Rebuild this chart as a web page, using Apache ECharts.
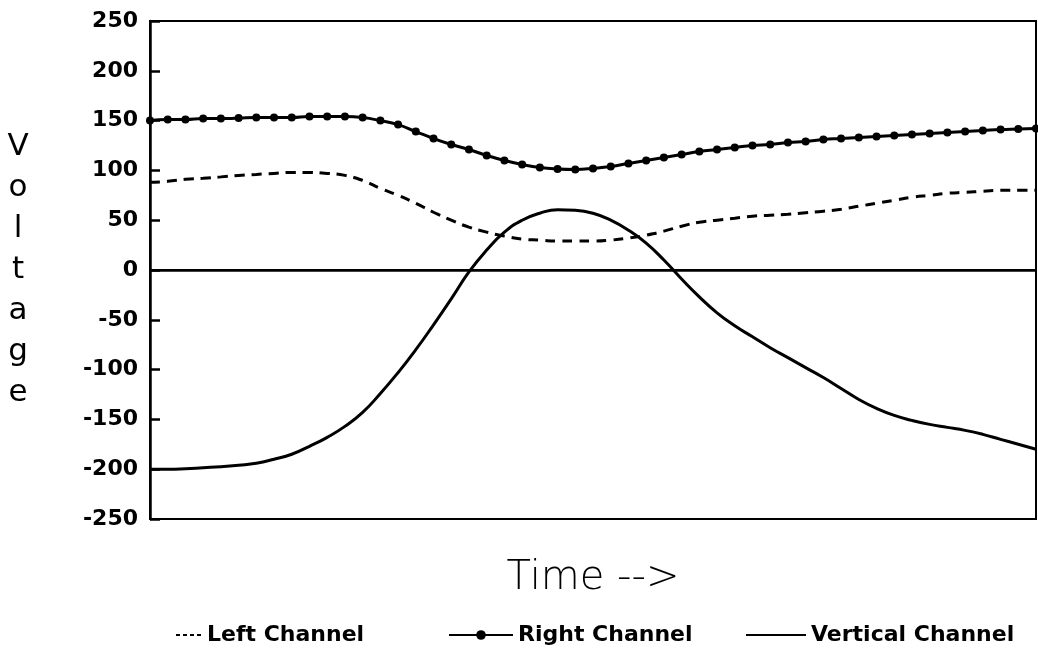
<!DOCTYPE html>
<html>
<head>
<meta charset="utf-8">
<script src="https://cdn.jsdelivr.net/npm/echarts@6/dist/echarts.min.js"></script>
<style>html,body{margin:0;padding:0;background:#fff;}#c{width:1038px;height:659px;}</style>
</head>
<body>
<div id="c"></div>
<script>
const time = [0,2,4,6,8,10,12,14,16,18,20,22,24,26,28,30,32,34,36,38,40,42,44,46,48,50,52,54,56,58,60,62,64,66,68,70,72,74,76,78,80,82,84,86,88,90,92,94,96,98,100];
const leftChannel = [88,89,91,92,93.5,95,96,97,98,98,97,95,90,82,75,67,58,50,43,38,34,31,30,29,29,29,30,32,35,39,44,48,50,52,54,55,56,57.5,59,61,64,67,70,73,75,77,78,79,80,80,80];
const rightChannel = [150,151,151,152,152,152.5,153,153,153,154,154,154,153,150,146,139,132,126,121,115,110,106,103,101.5,101,102,104,107,110,113,116,119,121,123,125,126,128,129,131,132,133,134,135,136,137,138,139,140,141,141.5,142];
const verticalChannel = [-200,-200,-199.5,-198.5,-197.5,-196,-194,-190,-185,-177,-168,-157,-143,-124,-103,-80,-55,-29,-2,20,38,50,57,60.5,60,57,50,40,27,10,-9,-27,-43,-56,-67,-78,-88,-98,-108,-119,-130,-139,-146,-151,-155,-158,-161,-165,-170,-175,-180];
const yTicks = [250,200,150,100,50,0,-50,-100,-150,-200,-250];
const seriesNames = ['Left Channel','Right Channel','Vertical Channel'];

const pair = arr => time.map((t,i)=>[t,arr[i]]);
const legendText = {fontFamily:'DejaVu Sans',fontWeight:'bold',fontSize:22,color:'#000'};
const chart = echarts.init(document.getElementById('c'));
chart.setOption({
  animation:false,
  backgroundColor:'#fff',
  grid:{left:150,right:2,top:21,bottom:140,show:true,borderColor:'#000',borderWidth:2,backgroundColor:'transparent'},
  legend:[
    {data:[seriesNames[0]],left:170,top:619,itemWidth:26,itemHeight:12,itemGap:6,textStyle:legendText,itemStyle:{opacity:0},lineStyle:{type:[4,3],width:2}},
    {data:[seriesNames[1]],left:443,top:619,itemWidth:64,itemHeight:12,itemGap:6,textStyle:legendText},
    {data:[seriesNames[2]],left:740,top:619,itemWidth:60,itemHeight:12,itemGap:6,textStyle:legendText,itemStyle:{opacity:0}}
  ],
  xAxis:{
    type:'value',min:0,max:100,
    name:'Time -->',nameLocation:'middle',nameGap:40,
    nameTextStyle:{fontFamily:'DejaVu Sans',fontWeight:200,fontSize:40,color:'#000'},
    axisLine:{show:true,lineStyle:{color:'#000',width:2}},
    axisTick:{show:false},axisLabel:{show:false},splitLine:{show:false}
  },
  yAxis:{
    type:'value',min:-250,max:250,interval:50,
    name:'V\no\nl\nt\na\ng\ne',nameLocation:'middle',nameRotate:0,nameGap:132,
    nameTextStyle:{fontFamily:'DejaVu Sans',fontSize:31,lineHeight:41,color:'#000',align:'center',verticalAlign:'middle',padding:[14,0,0,0]},
    axisLine:{show:true,lineStyle:{color:'#000',width:2.5}},
    axisTick:{show:true,inside:true,length:10,lineStyle:{color:'#000',width:2.5},customValues:yTicks},
    axisLabel:{margin:12,fontFamily:'DejaVu Sans',fontWeight:'bold',fontSize:22,color:'#000',customValues:yTicks},
    splitLine:{show:false}
  },
  series:[
    {name:seriesNames[0],type:'line',smooth:true,symbol:'none',data:pair(leftChannel),
     lineStyle:{color:'#000',width:3,type:[10,7]},itemStyle:{color:'#000'}},
    {name:seriesNames[1],type:'line',smooth:true,symbol:'circle',symbolSize:8,data:pair(rightChannel),
     lineStyle:{color:'#000',width:3},itemStyle:{color:'#000'}},
    {name:seriesNames[2],type:'line',smooth:true,symbol:'none',data:pair(verticalChannel),
     lineStyle:{color:'#000',width:3},itemStyle:{color:'#000'},
     markLine:{silent:true,symbol:'none',label:{show:false},lineStyle:{color:'#000',width:2.5,type:'solid'},data:[{yAxis:0}]}}
  ]
});
</script>
</body>
</html>
